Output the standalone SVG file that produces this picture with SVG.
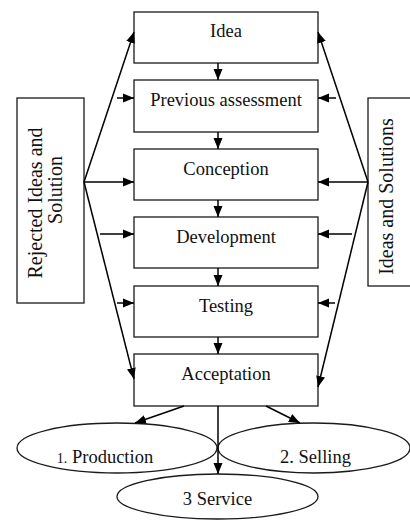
<svg xmlns="http://www.w3.org/2000/svg" width="410" height="520" viewBox="0 0 410 520">
<style>
.box{fill:#fff;stroke:#1a1a1a;stroke-width:1.3}
.t{font-family:"Liberation Serif","Times New Roman",serif;font-size:18.5px;fill:#111;text-anchor:middle}
.s{font-family:"Liberation Serif","Times New Roman",serif;font-size:20px;fill:#111;text-anchor:middle}
.c{stroke:#000;stroke-width:1.5;fill:none;marker-end:url(#ah)}
</style>
<defs>
<marker id="ah" markerUnits="userSpaceOnUse" markerWidth="11" markerHeight="10" viewBox="0 0 11 10" refX="11" refY="5" orient="auto">
<path d="M0,0.5 L11,5 L0,9.5 Z" fill="#000"/>
</marker>
</defs>
<rect width="410" height="520" fill="#fff"/>
<g id="rejected">
<rect class="box" x="17" y="98" width="67" height="205"/>
<text class="s" transform="translate(42,203) rotate(-90)">Rejected Ideas and</text>
<text class="s" transform="translate(62,190) rotate(-90)">Solution</text>
</g>
<g id="ideas-solutions">
<rect class="box" x="368" y="98" width="80" height="188"/>
<text class="s" transform="translate(393,196.5) rotate(-90)">Ideas and Solutions</text>
</g>
<g id="idea"><rect class="box" x="134" y="12" width="184" height="51"/><text class="t" x="226" y="37">Idea</text></g>
<g id="previous"><rect class="box" x="134" y="80" width="184" height="52"/><text class="t" x="226" y="106">Previous assessment</text></g>
<g id="conception"><rect class="box" x="134" y="149" width="184" height="51"/><text class="t" x="226" y="175">Conception</text></g>
<g id="development"><rect class="box" x="134" y="217" width="184" height="51"/><text class="t" x="226" y="243">Development</text></g>
<g id="testing"><rect class="box" x="134" y="286" width="184" height="51"/><text class="t" x="226" y="312">Testing</text></g>
<g id="acceptation"><rect class="box" x="134" y="354" width="184" height="52"/><text class="t" x="226" y="380">Acceptation</text></g>
<g id="production"><ellipse class="box" cx="117" cy="448" rx="100" ry="25"/><text class="t" x="105" y="463"><tspan font-size="14">1.</tspan> Production</text></g>
<g id="selling"><ellipse class="box" cx="314" cy="448" rx="96" ry="25"/><text class="t" x="315.5" y="463">2. Selling</text></g>
<g id="service"><ellipse class="box" cx="217.5" cy="496.5" rx="100.5" ry="22.5"/><text class="t" x="217.5" y="505">3 Service</text></g>
<g id="connectors">
<line class="c" x1="218" y1="63" x2="218" y2="80"/>
<line class="c" x1="218" y1="132" x2="218" y2="149"/>
<line class="c" x1="218" y1="200" x2="218" y2="217"/>
<line class="c" x1="218" y1="268" x2="218" y2="286"/>
<line class="c" x1="218" y1="337" x2="218" y2="354"/>
<line class="c" x1="84" y1="182" x2="134" y2="32"/>
<line class="c" x1="84" y1="182" x2="134" y2="182"/>
<line class="c" x1="84" y1="182" x2="134" y2="379"/>
<line class="c" x1="117" y1="98" x2="134" y2="98"/>
<line class="c" x1="100" y1="234" x2="134" y2="234"/>
<line class="c" x1="117" y1="303" x2="134" y2="303"/>
<line class="c" x1="368" y1="182" x2="318" y2="32"/>
<line class="c" x1="368" y1="182" x2="318" y2="182"/>
<line class="c" x1="368" y1="182" x2="318" y2="387"/>
<line class="c" x1="336" y1="98" x2="318" y2="98"/>
<line class="c" x1="352" y1="234" x2="318" y2="234"/>
<line class="c" x1="335" y1="303" x2="318" y2="303"/>
<line class="c" x1="184" y1="406" x2="135" y2="423"/>
<line class="c" x1="266" y1="406" x2="300" y2="423"/>
<line class="c" x1="218" y1="406" x2="218" y2="474"/>
</g>
</svg>
